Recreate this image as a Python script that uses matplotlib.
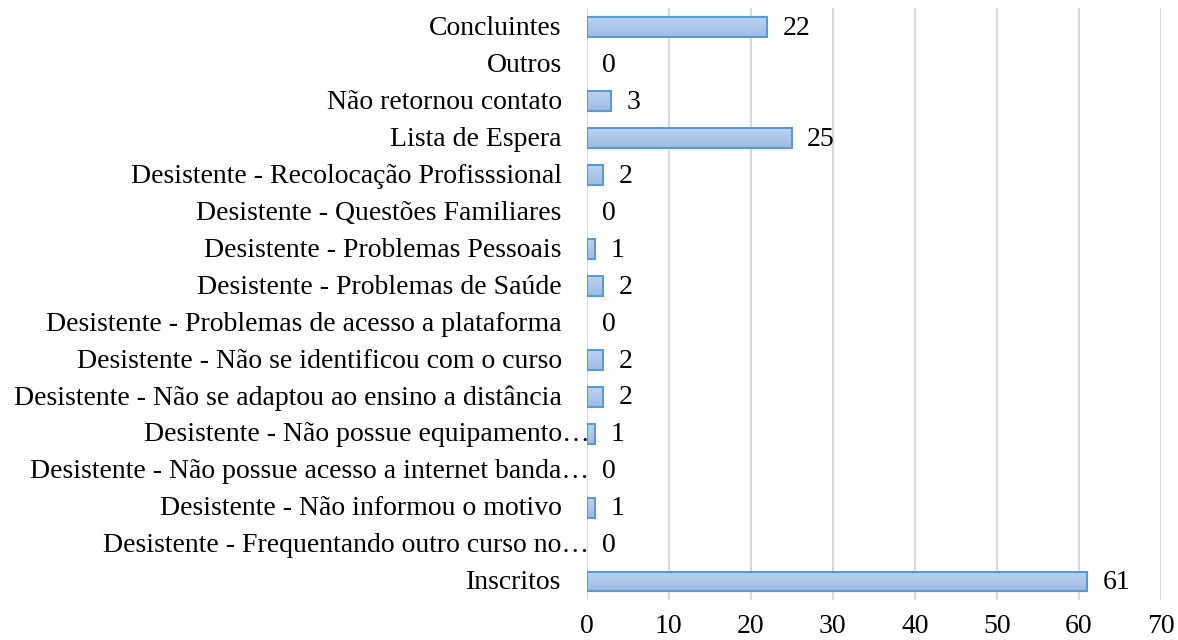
import numpy as np
import matplotlib.pyplot as plt
from matplotlib.colors import LinearSegmentedColormap

# Situação dos alunos por categoria (de baixo para cima)
categorias = [
    "Inscritos",
    "Desistente - Frequentando outro curso no…",
    "Desistente - Não informou o motivo",
    "Desistente - Não possue acesso a internet banda…",
    "Desistente - Não possue equipamento…",
    "Desistente - Não se adaptou ao ensino a distância",
    "Desistente - Não se identificou com o curso",
    "Desistente - Problemas de acesso a plataforma",
    "Desistente - Problemas de Saúde",
    "Desistente - Problemas Pessoais",
    "Desistente - Questões Familiares",
    "Desistente - Recolocação Profisssional",
    "Lista de Espera",
    "Não retornou contato",
    "Outros",
    "Concluintes",
]
valores = [61, 0, 1, 0, 1, 2, 2, 0, 2, 1, 0, 2, 25, 3, 0, 22]
x_ticks = [0, 10, 20, 30, 40, 50, 60, 70]

plt.rcParams['font.family'] = ['Liberation Serif', 'DejaVu Serif']

fig = plt.figure(figsize=(11.78, 6.4), dpi=100)
ax = fig.add_axes([0.498, 0.0625, 0.4875, 0.9245])

pos = list(range(len(categorias)))
barras = ax.barh(pos, valores, height=0.54, color='none',
                 edgecolor='#5b9bd5', linewidth=1.5, zorder=4)

# preenchimento em degradê (claro em cima, mais escuro embaixo)
degrade = LinearSegmentedColormap.from_list('degrade', ['#9dbbe2', '#bcd3ef'])
grad = np.linspace(0, 1, 64).reshape(-1, 1)
for b, v in zip(barras, valores):
    if v == 0:
        b.set_linewidth(0)
        continue
    x0, y0, w, h = b.get_x(), b.get_y(), b.get_width(), b.get_height()
    im = ax.imshow(grad, cmap=degrade, aspect='auto', origin='lower',
                   extent=(x0, x0 + w, y0, y0 + h), zorder=3)
    im.set_clip_path(b)

for p, v in zip(pos, valores):
    ax.annotate(str(v), xy=(v, p), xytext=(11, -1), textcoords='offset points',
                ha='left', va='center', fontsize=20, color='black')

# rótulos das categorias; os truncados avançam um pouco sobre o eixo
for p, nome in zip(pos, categorias):
    dx = 2 if nome.endswith('…') else -18
    ax.annotate(nome, xy=(0, p), xycoords=ax.get_yaxis_transform(),
                xytext=(dx, -1), textcoords='offset points',
                ha='right', va='center', fontsize=20, color='black')

ax.set_xlim(0, 70)
ax.set_ylim(-0.5, len(categorias) - 0.5)
ax.set_xticks(x_ticks)
ax.set_yticks([])
ax.tick_params(axis='x', length=0, pad=10, labelsize=20)

ax.grid(axis='x', color='#d9d9d9', linewidth=1.5, zorder=0)
for s in ax.spines.values():
    s.set_visible(False)

fig.savefig('out.png', dpi=100)
